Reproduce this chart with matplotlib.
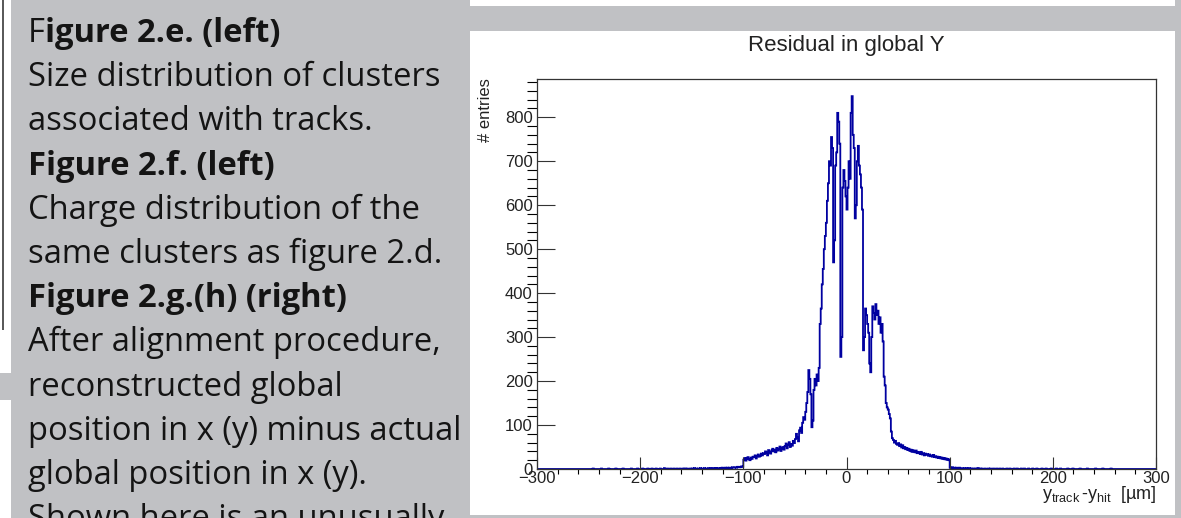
import numpy as np
import matplotlib.pyplot as plt
from matplotlib.patches import Rectangle
from matplotlib.ticker import MultipleLocator

# residual histogram, 1 um bins from -300 to 300 um
# core region -100 .. 99 um, one value per bin
core = [
    21, 25, 19, 24, 27, 22, 20, 26, 23, 28,
    27, 31, 24, 29, 33, 28, 30, 35, 31, 36,
    34, 40, 37, 31, 43, 38, 35, 42, 46, 40,
    44, 38, 48, 42, 45, 51, 41, 47, 50, 44,
    52, 58, 47, 55, 61, 50, 57, 53, 64, 59,
    68, 80, 71, 63, 88, 94, 82, 105, 118, 112,
    130, 150, 175, 225, 205, 170, 95, 110, 180, 205,
    190, 215, 200, 230, 330, 365, 420, 455, 500, 530,
    560, 610, 650, 700, 690, 755, 730, 470, 520, 690,
    720, 810, 790, 740, 255, 300, 640, 680, 655, 620,
    590, 640, 700, 660, 810, 848, 760, 730, 570, 600,
    700, 735, 690, 670, 640, 590, 270, 300, 365, 350,
    330, 310, 240, 220, 300, 370, 355, 340, 375, 350,
    360, 330, 345, 310, 330, 290, 210, 190, 150, 140,
    135, 125, 115, 85, 70, 66, 60, 64, 57, 55,
    59, 52, 56, 49, 54, 47, 50, 45, 48, 43,
    46, 41, 44, 39, 43, 40, 38, 42, 36, 39,
    37, 34, 39, 33, 36, 31, 35, 32, 34, 30,
    33, 29, 31, 28, 32, 27, 29, 26, 28, 25,
    27, 24, 26, 23, 25, 22, 24, 21, 23, 20,
]
# sparse tails: bin position (um) -> entries
tail_left = {
    -246: 1, -238: 1, -231: 1, -224: 1, -217: 1, -209: 1, -203: 1, -198: 1,
    -193: 1, -189: 1, -185: 1, -181: 1, -177: 2, -174: 1, -171: 1, -168: 1,
    -165: 1, -162: 1, -159: 1, -157: 1, -155: 1, -152: 1, -150: 1, -148: 2,
    -146: 1, -144: 1, -142: 2, -140: 1, -138: 2, -136: 1, -134: 2, -132: 2,
    -130: 1, -129: 2, -128: 1, -127: 2, -126: 1, -125: 2, -124: 2, -123: 1,
    -122: 2, -121: 3, -120: 2, -119: 2, -118: 3, -117: 2, -116: 3, -115: 2,
    -114: 3, -113: 3, -112: 2, -111: 4, -110: 3, -109: 3, -108: 4, -107: 3,
    -106: 5, -105: 4, -104: 4, -103: 5, -102: 6, -101: 5,
}
tail_right = {
    100: 3, 101: 2, 102: 4, 103: 2, 104: 3, 105: 2, 106: 3, 107: 2, 108: 2,
    109: 3, 110: 1, 111: 2, 112: 2, 113: 1, 114: 2, 115: 1, 116: 2, 117: 1,
    118: 1, 119: 2, 120: 1, 121: 1, 123: 1, 125: 1, 127: 2, 129: 1, 131: 1,
    134: 1, 137: 1, 139: 1, 142: 1, 145: 1, 148: 1, 151: 1, 155: 1, 158: 1,
    162: 1, 165: 1, 169: 1, 172: 1, 176: 1, 180: 1, 184: 1, 189: 1, 193: 1,
    198: 1, 203: 1, 207: 1, 214: 1, 219: 1, 226: 1, 233: 1, 241: 1, 248: 1,
    256: 1,
}

edges = np.arange(-300, 301, 1)
counts = np.zeros(len(edges) - 1)
counts[200:400] = core
for pos, n in {**tail_left, **tail_right}.items():
    counts[pos + 300] = n

notes = [
    ("Size distribution of clusters", "normal"),
    ("associated with tracks.", "normal"),
    ("Figure 2.f. (left)", "bold"),
    ("Charge distribution of the", "normal"),
    ("same clusters as figure 2.d.", "normal"),
    ("Figure 2.g.(h) (right)", "bold"),
    ("After alignment procedure,", "normal"),
    ("reconstructed global", "normal"),
    ("position in x (y) minus actual", "normal"),
    ("global position in x (y).", "normal"),
    ("Shown here is an unusually", "normal"),
]

W, H = 1181, 518
BG = '#c0c1c4'
plt.rcParams['mathtext.fontset'] = 'custom'
plt.rcParams['mathtext.rm'] = 'Liberation Sans'
plt.rcParams['mathtext.it'] = 'Liberation Sans'


def box(x0, y0, x1, y1, color):
    # rectangle given in pixels from the top left corner
    r = Rectangle((x0 / W, 1 - y1 / H), (x1 - x0) / W, (y1 - y0) / H,
                  transform=fig.transFigure, facecolor=color,
                  edgecolor='none', zorder=-5)
    fig.patches.append(r)
    return r


fig = plt.figure(figsize=(W / 100, H / 100), dpi=100, facecolor=BG)

# white panels
box(0, 0, 11, 373, 'white')
box(0, 400, 11, H, 'white')
box(2, 0, 4, 330, '#5a5a5a')
strip = box(470, 0, 1175, 6, 'white')
box(470, 31, 1175, 515, 'white')

# text column on the left
txt_kw = dict(family='Open Sans', fontsize=23.6, color='#141414', va='baseline')
t0 = fig.text(28 / W, 1 - 42 / H, "F", fontweight='normal', **txt_kw)
fig.canvas.draw()
bb = t0.get_window_extent()
fig.text(bb.x1 / W, 1 - 42 / H, "igure 2.e. (left)", fontweight='bold', **txt_kw)
for i, (line, weight) in enumerate(notes):
    fig.text(28 / W, 1 - (42 + 44.2 * (i + 1)) / H, line, fontweight=weight, **txt_kw)

# histogram
ax = fig.add_axes([537 / W, 49 / H, (1156 - 537) / W, (469 - 79) / H])
ax.set_facecolor('white')
ax.stairs(counts, edges, color='#0000a0', linewidth=1.3)
ax.set_xlim(-300, 300)
ax.set_ylim(0, 887)
ax.set_xticks(np.arange(-300, 301, 100))
ax.set_yticks(np.arange(0, 801, 100))
ax.xaxis.set_minor_locator(MultipleLocator(20))
ax.yaxis.set_minor_locator(MultipleLocator(20))
ax.tick_params(axis='both', direction='in', labelsize=12, width=0.8,
               labelcolor='#222222', color='#333333')
ax.tick_params(axis='x', which='major', length=8.5, pad=1.5)
ax.tick_params(axis='x', which='minor', length=3.6, width=0.8)
ax.tick_params(axis='y', which='major', length=13, pad=3)
ax.tick_params(axis='y', which='minor', length=7, width=0.8)
for s in ax.spines.values():
    s.set_linewidth(0.9)
    s.set_color('#333333')
for lab in ax.get_xticklabels() + ax.get_yticklabels():
    lab.set_family('Liberation Sans')

xlabel = r'$\mathregular{y_{track}\,\text{-}y_{hit}}$  [µm]'
fig.text(846 / W, 1 - 46 / H, "Residual in global Y", ha='center', va='center',
         family='Liberation Sans', fontsize=16, color='#222222')
fig.text(485 / W, 1 - 78 / H, "# entries", rotation=90, ha='center', va='top',
         family='Liberation Sans', fontsize=12, color='#222222')
fig.text(1157 / W, 1 - 499 / H, xlabel, ha='right', va='baseline',
         family='Liberation Sans', fontsize=13, color='#222222')
top = fig.text(1157 / W, 1 + 4 / H, xlabel, ha='right', va='baseline',
               family='Liberation Sans', fontsize=13, color='#222222')
top.set_clip_path(strip)

fig.savefig('out.png', dpi=100, facecolor=BG)
